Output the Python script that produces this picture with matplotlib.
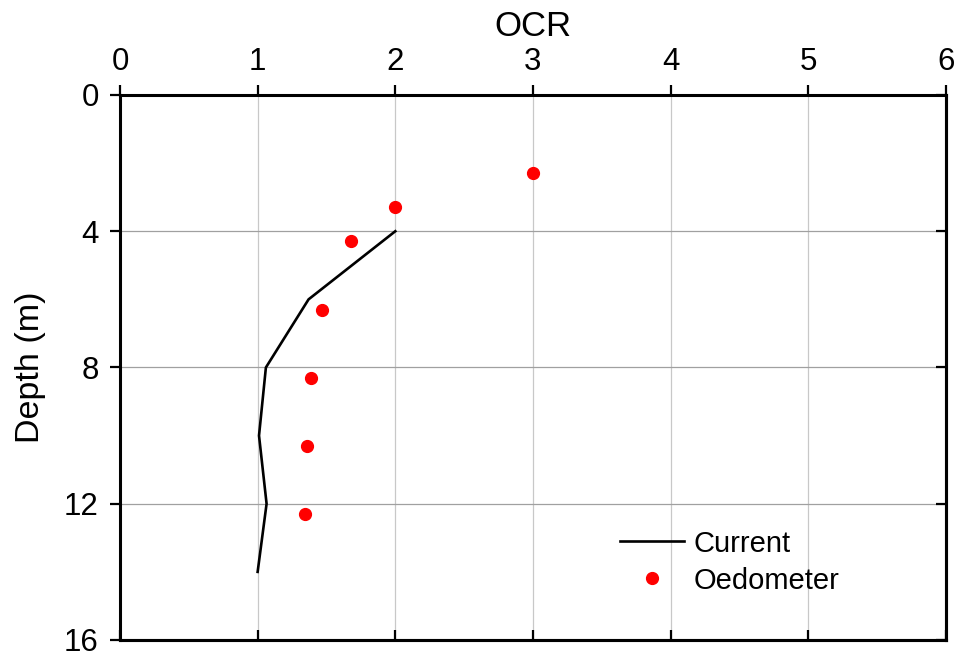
import matplotlib.pyplot as plt

plt.rcParams['font.family'] = ['Liberation Sans', 'DejaVu Sans']

# current OCR profile
cur_depth = [4, 6, 8, 10, 12, 14]
cur_ocr = [2.0, 1.37, 1.06, 1.01, 1.065, 1.0]

# oedometer tests
oed_depth = [2.3, 3.3, 4.3, 6.3, 8.3, 10.3, 12.3]
oed_ocr = [3.0, 2.0, 1.675, 1.47, 1.39, 1.36, 1.345]

xticks = [0, 1, 2, 3, 4, 5, 6]
yticks = [0, 4, 8, 12, 16]

fig = plt.figure(figsize=(9.59, 6.51), dpi=100)
ax = fig.add_axes([0.1251, 0.0169, 0.8613, 0.8372])

for x in xticks[1:-1]:
    ax.axvline(x, color='#c8c8c8', lw=0.9, zorder=0)
for y in yticks[1:-1]:
    ax.axhline(y, color='#a0a0a0', lw=0.9, zorder=0)

ax.plot(cur_ocr, cur_depth, color='black', lw=1.9, label='Current', zorder=3)
ax.plot(oed_ocr, oed_depth, 'o', color='red', ms=8.5, label='Oedometer', zorder=4)

ax.set_xlim(0, 6)
ax.set_ylim(16, 0)
ax.set_xticks(xticks)
ax.set_yticks(yticks)
ax.xaxis.tick_top()
ax.xaxis.set_label_position('top')
ax.tick_params(axis='both', direction='out', length=7.2, width=1.6, labelsize=22.5)
ax.tick_params(axis='x', pad=6)
ax.tick_params(axis='y', pad=8)
ax.set_xlabel('OCR', fontsize=25, labelpad=8)
ax.set_ylabel('Depth (m)', fontsize=24.5, labelpad=13)

for s in ax.spines.values():
    s.set_linewidth(2.2)

# mirrored ticks pointing inward on bottom and right
secx = ax.secondary_xaxis('bottom')
secx.set_xticks(xticks)
secx.tick_params(direction='in', length=7.2, width=1.6, labelbottom=False)
secx.spines['bottom'].set_linewidth(2.2)
secy = ax.secondary_yaxis('right')
secy.set_yticks(yticks)
secy.tick_params(direction='in', length=7.2, width=1.6, labelright=False)
secy.spines['right'].set_linewidth(2.2)

ax.legend(loc='upper left', bbox_to_anchor=(0.591, 0.224), frameon=False,
          fontsize=21, handlelength=2.2, handletextpad=0.33, labelspacing=0.31,
          borderaxespad=0, numpoints=1)

fig.savefig('out.png', dpi=100)
